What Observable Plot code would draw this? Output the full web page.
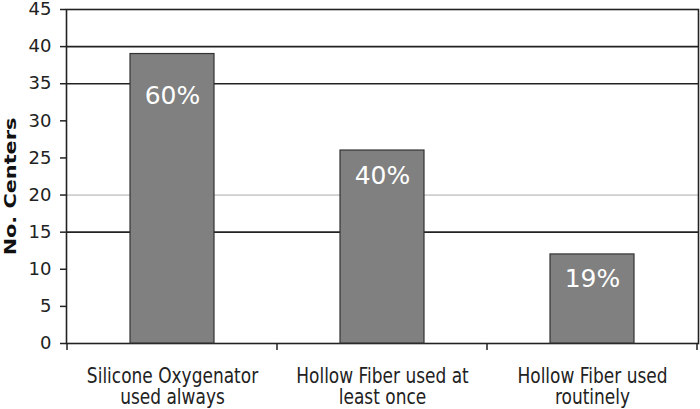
<!DOCTYPE html>
<html>
<head>
<meta charset="utf-8">
<script src="https://cdn.jsdelivr.net/npm/d3@7"></script>
<script src="https://cdn.jsdelivr.net/npm/@observablehq/plot@0.6"></script>
<style>
  html, body { margin: 0; padding: 0; background: #fff; }
  svg { font-family: "DejaVu Sans", Verdana, sans-serif; }
</style>
</head>
<body>
<div id="chart"></div>
<script>
const categories = ["Silicone Oxygenator\nused always", "Hollow Fiber used at\nleast once", "Hollow Fiber used\nroutinely"];
const centers = [39, 26, 12];
const percentLabels = ["60%", "40%", "19%"];
const yTicks = [0, 5, 10, 15, 20, 25, 30, 35, 40, 45];
const darkGrid = [15, 35, 40];
const faintGrid = [20];
const yTitle = "No. Centers";

const data = categories.map((c, i) => ({cat: c, n: centers[i], pct: percentLabels[i]}));

const W = 700, H = 409;
const mL = 66, mR = 2, mT = 9, mB = 66;

const boundaryTicks = (index, scales, values, dims) => {
  const g = d3.create("svg:g");
  const xs = scales.x;
  const step = xs.step ? xs.step() : (dims.width - dims.marginLeft - dims.marginRight) / categories.length;
  const bw = xs.bandwidth ? xs.bandwidth() : 0;
  const y0 = scales.y(0);
  const pos = categories.map(c => scales.x(c) + bw / 2 - step / 2);
  pos.push(scales.x(categories[categories.length - 1]) + bw / 2 + step / 2);
  for (const x of pos) {
    g.append("line").attr("x1", x).attr("x2", x).attr("y1", y0).attr("y2", y0 + 7)
      .attr("stroke", "#222").attr("stroke-width", 1.5);
  }
  return g.node();
};

const chart = Plot.plot({
  width: W,
  height: H,
  marginLeft: mL,
  marginRight: mR,
  marginTop: mT,
  marginBottom: mB,
  style: {fontFamily: "'DejaVu Sans', Verdana, sans-serif", color: "#222", background: "#fff", overflow: "visible"},
  x: {domain: categories, paddingInner: 0.6, paddingOuter: 0.3, label: null},
  y: {domain: [0, 45], label: null},
  marks: [
    Plot.ruleY(darkGrid, {stroke: "#222", strokeWidth: 1.6}),
    Plot.ruleY(faintGrid, {stroke: "#aaa", strokeWidth: 1}),
    Plot.frame({stroke: "#222", strokeWidth: 1.6}),
    Plot.barY(data, {x: "cat", y: "n", fill: "#808080", stroke: "#333", strokeWidth: 1.2}),
    Plot.text(data.filter((d, i) => i === 0), {x: "cat", y: "n", text: "pct", fill: "#fff", fontSize: 25, dy: 42}),
    Plot.text(data.filter((d, i) => i > 0), {x: "cat", y: "n", text: "pct", fill: "#fff", fontSize: 25, dy: 25}),
    Plot.axisY({ticks: yTicks, tickSize: 6, tickPadding: 9, fontSize: 18, stroke: "#222", strokeWidth: 1.5, label: null}),
    Plot.axisX({tickSize: 0, tickPadding: 25, fontSize: 17, lineHeight: 1.03, label: null}),
    Plot.text([yTitle], {frameAnchor: "left", textAnchor: "middle", rotate: -90, dx: -56, dy: 10, fontSize: 16, fontWeight: "bold", fill: "#111"}),
    boundaryTicks
  ]
});

document.getElementById("chart").appendChild(chart);

// the reference's category labels and axis title are drawn taller than they are wide
const catFlat = categories.map(c => c.replace("\n", ""));
d3.select(chart).selectAll("text").each(function() {
  const txt = this.textContent;
  let s = null;
  if (catFlat.includes(txt)) s = "scale(1,1.2)";
  else if (txt === yTitle) s = "scale(1.3,1)";
  if (!s) return;
  let tr = this.getAttribute("transform");
  if (!tr) {
    const x = this.getAttribute("x") || 0, y = this.getAttribute("y") || 0;
    tr = `translate(${x},${y})`;
    this.removeAttribute("x");
    this.removeAttribute("y");
  }
  this.setAttribute("transform", tr + " " + s);
});
</script>
</body>
</html>
